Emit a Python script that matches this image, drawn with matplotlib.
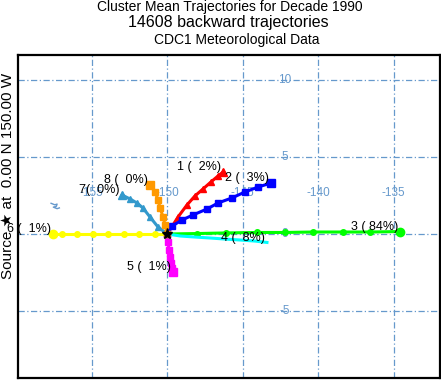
import numpy as np
import matplotlib.pyplot as plt

plt.rcParams['font.family'] = ['Liberation Sans', 'DejaVu Sans']

# cluster mean trajectories (lon, lat), starting at the source
src = (-150.0, 0.0)
lon1 = [-150.0, -149.29, -148.70, -148.17, -147.64, -147.11, -146.64, -146.30]
lat1 = [0.0, 1.11, 1.89, 2.48, 2.93, 3.39, 3.78, 4.04]
lon2 = [-150.0, -149.69, -149.03, -148.30, -147.37, -146.64, -145.72, -144.85, -143.99, -143.13]
lat2 = [0.0, 0.52, 0.91, 1.24, 1.63, 2.02, 2.35, 2.74, 3.06, 3.32]
lon3 = [-150.0, -148.03, -146.11, -144.05, -142.20, -140.34, -138.36, -136.57, -134.58]
lat3 = [0.0, 0.03, 0.07, 0.10, 0.10, 0.13, 0.13, 0.13, 0.16]
lon4 = [-150.0, -149.14, -148.15, -147.17, -146.18, -145.19, -144.19, -143.40]
lat4 = [0.0, -0.13, -0.20, -0.26, -0.33, -0.39, -0.46, -0.55]
lon5 = [-150.0, -149.95, -149.89, -149.82, -149.75, -149.69, -149.62]
lat5 = [0.0, -0.52, -1.04, -1.50, -1.89, -2.21, -2.48]
lon6 = [-150.0, -150.81, -151.87, -152.87, -153.93, -154.92, -155.98, -156.97, -157.57]
lat6 = [0.0, 0.0, 0.0, 0.0, 0.0, 0.0, 0.0, 0.0, 0.0]
lon7 = [-150.0, -150.62, -151.15, -151.61, -152.01, -152.47, -153.00]
lat7 = [0.0, 0.46, 1.11, 1.69, 2.02, 2.28, 2.54]
lon8 = [-150.0, -150.15, -150.28, -150.48, -150.61, -150.81, -151.14]
lat8 = [0.0, 0.59, 1.11, 1.69, 2.21, 2.74, 3.19]

trajs = [(lon1, lat1), (lon2, lat2), (lon3, lat3), (lon4, lat4),
         (lon5, lat5), (lon6, lat6), (lon7, lat7), (lon8, lat8)]
labels = ['1 (  2%)', '2 (  3%)', '3 ( 84%)', '4 (  8%)',
          '5 (  1%)', '6 (  1%)', '7(  0%)', '8 (  0%)']
colors = ['#FF0000', '#0000FF', '#00FF00', '#00FFFF',
          '#FF00FF', '#FFFF00', '#3399CC', '#FF9900']
markers = ['^', 's', 'o', None, 's', 'o', '^', 's']

# Kiritimati coastline fragment
isl_lon = [-157.70, -157.45, -157.30, -157.35, -157.55, -157.30, -157.15]
isl_lat = [2.00, 1.90, 1.95, 1.80, 1.75, 1.65, 1.70]

lon_ticks = [-155, -150, -145, -140, -135]
lat_ticks = [10, 5, 0, -5]

grid_c = '#6699CC'

fig = plt.figure(figsize=(4.41, 3.80), dpi=100)
ax = fig.add_axes([18 / 441, 2 / 380, 422 / 441, 323 / 380])
ax.set_xlim(-159.89, -131.94)
ax.set_ylim(-9.38, 11.66)
ax.set_xticks([])
ax.set_yticks([])
for s in ax.spines.values():
    s.set_linewidth(1.6)

for x in lon_ticks:
    ax.axvline(x, color=grid_c, lw=0.9, ls=(0, (5, 2, 1, 2)), zorder=1)
    ax.text(x, 2.7, str(x), color=grid_c, fontsize=8.5, ha='center', va='center', zorder=2)
for y in lat_ticks:
    ax.axhline(y, color=grid_c, lw=0.9, ls=(0, (5, 2, 1, 2)), zorder=1)
    ax.text(-142.2, y, str(y), color=grid_c, fontsize=8.5, ha='center', va='center', zorder=2)

ax.plot(isl_lon, isl_lat, color=grid_c, lw=1, zorder=2)

for (lo, la), c, m, lab in zip(trajs, colors, markers, labels):
    ax.plot(lo, la, color=c, lw=2.2, marker=m, ms=4, zorder=3)
    if m is not None:
        ax.plot(lo[-1], la[-1], color=c, marker=m, ms=6, ls='none', zorder=3)
    ax.annotate(lab, (lo[-1], la[-1]), xytext=(-1.5, -1), textcoords='offset points',
                ha='right', va='bottom', fontsize=9, zorder=5, annotation_clip=False)

ax.plot(src[0], src[1], marker='*', color='black', ms=8, ls='none', zorder=6)

fig.text(229.5 / 441, 1 - 7 / 380, 'Cluster Mean Trajectories for Decade 1990',
         ha='center', va='center', fontsize=10)
fig.text(228.5 / 441, 1 - 23 / 380, '14608 backward trajectories',
         ha='center', va='center', fontsize=11.5)
fig.text(237 / 441, 1 - 40 / 380, 'CDC1 Meteorological Data',
         ha='center', va='center', fontsize=10)
fig.text(8 / 441, 1 - 176 / 380, 'Source \u2605 at  0.00 N 150.00 W',
         rotation=90, ha='center', va='center', fontsize=11)

fig.savefig('out.png', dpi=100)
